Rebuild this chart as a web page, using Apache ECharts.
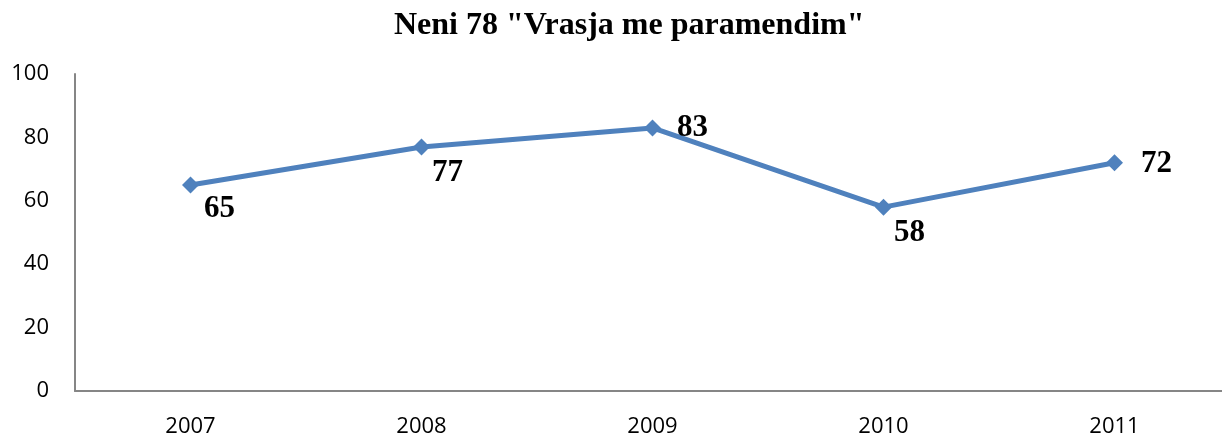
<!DOCTYPE html>
<html>
<head>
<meta charset="utf-8">
<script src="https://cdn.jsdelivr.net/npm/echarts@6/dist/echarts.min.js"></script>
<style>
  html, body { margin: 0; padding: 0; background: #fff; }
  #chart { width: 1222px; height: 437px; }
</style>
</head>
<body>
<div id="chart"></div>
<script>
var years = ["2007", "2008", "2009", "2010", "2011"];
var cases = [65, 77, 83, 58, 72];

// where each value label sits, relative to its point
var labelOffsets = [[29, 24], [26, 26], [40, 0], [26, 26], [42, 1]];

var chart = echarts.init(document.getElementById("chart"));

var seriesData = cases.map(function (v, i) {
    return {
        value: v,
        label: { offset: labelOffsets[i] }
    };
});

var option = {
    animation: false,
    title: {
        text: 'Neni 78 "Vrasja me paramendim"',
        left: 389,
        top: 5,
        textStyle: {
            fontFamily: 'Liberation Serif',
            fontWeight: 'bold',
            fontSize: 32,
            color: '#000'
        }
    },
    grid: { left: 75, right: -8, top: 74, bottom: 46, outerBoundsMode: 'none' },
    xAxis: {
        type: 'category',
        data: years,
        boundaryGap: true,
        axisLine: { lineStyle: { color: '#868686', width: 2 } },
        axisTick: { show: false },
        axisLabel: { color: '#000', fontFamily: 'Open Sans', fontSize: 22, margin: 25 }
    },
    yAxis: {
        type: 'value',
        min: 0,
        max: 100,
        interval: 20,
        splitLine: { show: false },
        axisLine: { show: true, lineStyle: { color: '#868686', width: 2 } },
        axisTick: { show: false },
        axisLabel: { color: '#000', fontFamily: 'Open Sans', fontSize: 22, margin: 26 }
    },
    series: [{
        type: 'line',
        data: seriesData,
        symbol: 'diamond',
        symbolSize: 17,
        lineStyle: { color: '#4F81BD', width: 5 },
        itemStyle: { color: '#4F81BD' },
        label: {
            show: true,
            position: 'inside',
            color: '#000',
            fontFamily: 'Liberation Serif',
            fontWeight: 'bold',
            fontSize: 31
        }
    }]
};

chart.setOption(option);
</script>
</body>
</html>
